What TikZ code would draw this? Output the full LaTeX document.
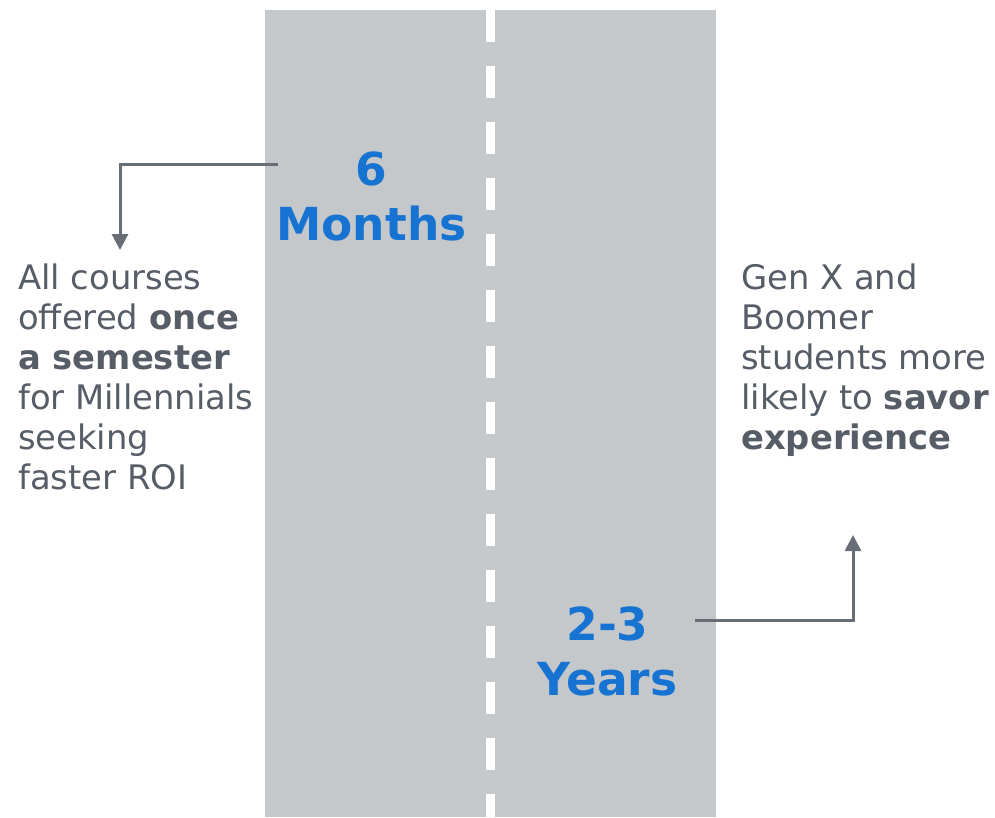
\documentclass[tikz,border=0pt]{standalone}
\usepackage{fontspec}
\setmainfont{DejaVu Sans}
\usetikzlibrary{arrows.meta}
\definecolor{road}{HTML}{C5C8CB}
\definecolor{ink}{HTML}{565D66}
\definecolor{wire}{HTML}{676E76}
\definecolor{term}{HTML}{1673D1}
\begin{document}
\begin{tikzpicture}[x=1pt, y=-1pt,
  note/.style={anchor=base west,inner sep=0pt,align=left,text=ink,
    font=\fontsize{33.8}{40}\selectfont},
  span/.style={anchor=base,inner sep=0pt,align=center,text=term,
    font=\fontsize{45.5}{54.5}\selectfont\bfseries},
  link/.style={wire,line width=3pt,-{Triangle[width=16pt,length=16pt]}}]
\useasboundingbox (0,0) rectangle (995,817);
% road with dashed centre line
\fill[road] (265,10) rectangle (716,817);
\draw[white,line width=9pt,dash pattern=on 32pt off 24pt] (490.5,10) -- (490.5,817);
% durations (anchored on the last line)
\node[span] (short) at (371.5,240) {6\\Months};
\node[span] (long) at (607.5,695) {2-3\\Years};
% side notes
\node[note] (left) at (18,489) {All courses\\offered \textbf{once}\\\textbf{a semester}\\for Millennials\\seeking\\faster ROI};
\node[note] (right) at (741,449) {Gen X and\\Boomer\\students more\\likely to \textbf{savor}\\\textbf{experience}};
% callouts
\coordinate (lfrom) at (278,164);
\coordinate (lto) at (120,250);
\coordinate (rfrom) at (695,620);
\coordinate (rto) at (853,535);
\draw[link] (lfrom) -| (lto);
\draw[link] (rfrom) -| (rto);
\end{tikzpicture}
\end{document}
